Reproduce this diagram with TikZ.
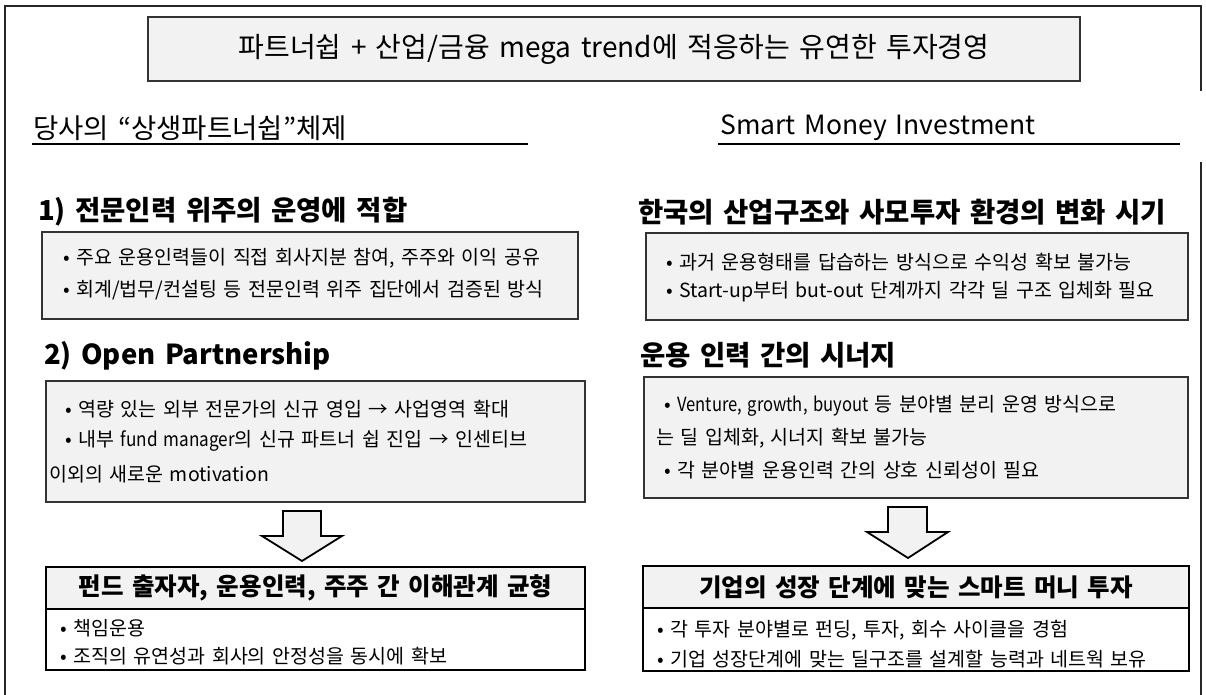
\documentclass[tikz,border=0pt]{standalone}
\usepackage{fontspec}
\setmainfont{Noto Sans CJK KR}[WordSpace=1.5]
\begin{document}
\begin{tikzpicture}[x=1pt,y=-1pt,
  frameline/.style={line width=1.8pt,draw=black!85},
  uline/.style={line width=2pt,draw=black},
  graybox/.style={draw=black!80,line width=1.2pt,fill=gray!10,anchor=north west,inner sep=0pt,outer sep=0pt},
  thickbox/.style={draw=black,line width=2.2pt,anchor=north west,inner sep=0pt,outer sep=0pt},
  headfill/.style={fill=gray!10,anchor=north west,inner sep=0pt,outer sep=0pt},
  txt/.style={anchor=west,inner sep=0pt,font=\fontsize{19.5}{21}\selectfont},
  head/.style={anchor=west,inner sep=0pt,font=\fontsize{27.5}{29}\selectfont\bfseries},
  sechead/.style={anchor=west,inner sep=0pt,font=\fontsize{26.5}{28}\selectfont},
  hdr/.style={inner sep=0pt,font=\fontsize{24.5}{26}\selectfont\bfseries},
  bigarrow/.style={draw=black,line width=1.8pt,fill=gray!10,line join=miter}
]
\useasboundingbox (0,0) rectangle (1206,695);

% outer frame
\draw[frameline] (1201,91) -- (1201,6) -- (5,6) -- (5,695);
\draw[frameline] (1201,162) -- (1201,695);

% title
\node[graybox,minimum width=932pt,minimum height=64pt] (titlebox) at (148,17) {};
\node[inner sep=0pt,font=\fontsize{28}{30}\selectfont] (title) at (titlebox.center) {파트너쉽 + 산업/금융 mega trend에 적응하는 유연한 투자경영};

% section headings
\node[sechead,font=\fontsize{27.5}{29}\selectfont] (lsec) at (33,128) {당사의 “상생파트너쉽”체제};
\draw[uline] (32,144) -- (528,144);
\node[sechead] (rsec) at (720,128) {Smart Money Investment};
\draw[uline] (718,144) -- (1180,144);

% ---------- left column ----------
\node[head] (lh1) at (38,212) {1) 전문인력 위주의 운영에 적합};
\node[graybox,minimum width=536pt,minimum height=87pt] (lb1) at (42,232) {};
\node[txt] (lb1a) at (63,258) {• 주요 운용인력들이 직접 회사지분 참여, 주주와 이익 공유};
\node[txt] (lb1b) at (63,290) {• 회계/법무/컨설팅 등 전문인력 위주 집단에서 검증된 방식};

\node[head] (lh2) at (44,356) {2) Open Partnership};
\node[graybox,minimum width=539pt,minimum height=121pt] (lb2) at (46,381) {};
\node[txt] (lb2a) at (65,409) {• 역량 있는 외부 전문가의 신규 영입 → 사업영역 확대};
\node[txt] (lb2b) at (65,441) {• 내부 \scalebox{0.88}[1]{fund manager}의 신규 파트너 쉽 진입 → 인센티브};
\node[txt] (lb2c) at (49,474) {이외의 새로운 motivation};

\draw[bigarrow] (283,511) -- (321,511) -- (321,536) -- (342,536) -- (302,561) -- (262,536) -- (283,536) -- cycle;

\node[headfill,minimum width=539pt,minimum height=42pt] (lb3h) at (46,567) {};
\node[hdr] (lb3t) at (lb3h.center) {펀드 출자자, 운용인력, 주주 간 이해관계 균형};
\node[thickbox,minimum width=539pt,minimum height=103pt] (lb3) at (46,567) {};
\draw[line width=2.2pt] (lb3h.south west) -- (lb3h.south east);
\node[txt] (lb3a) at (60,628) {• 책임운용};
\node[txt] (lb3b) at (60,656) {• 조직의 유연성과 회사의 안정성을 동시에 확보};

% ---------- right column ----------
\node[head] (rh1) at (638,212) {한국의 산업구조와 사모투자 환경의 변화 시기};
\node[graybox,minimum width=542pt,minimum height=87pt] (rb1) at (646,233) {};
\node[txt] (rb1a) at (666,262) {• 과거 운용형태를 답습하는 방식으로 수익성 확보 불가능};
\node[txt] (rb1b) at (666,292) {• Start-up부터 but-out 단계까지 각각 딜 구조 입체화 필요};

\node[head] (rh2) at (640,355) {운용 인력 간의 시너지};
\node[graybox,minimum width=544pt,minimum height=121pt] (rb2) at (644,377) {};
\node[txt] (rb2a) at (664,406) {• \scalebox{0.85}[1]{Venture, growth, buyout} 등 분야별 분리 운영 방식으로};
\node[txt] (rb2b) at (656,438) {는 딜 입체화, 시너지 확보 불가능};
\node[txt] (rb2c) at (664,470) {• 각 분야별 운용인력 간의 상호 신뢰성이 필요};

\draw[bigarrow] (888,507) -- (927,507) -- (927,532) -- (948,532) -- (908,558) -- (867,532) -- (888,532) -- cycle;

\node[headfill,minimum width=546pt,minimum height=42pt] (rb3h) at (643,566) {};
\node[hdr] (rb3t) at (rb3h.center) {기업의 성장 단계에 맞는 스마트 머니 투자};
\node[thickbox,minimum width=546pt,minimum height=105pt] (rb3) at (643,566) {};
\draw[line width=2.2pt] (rb3h.south west) -- (rb3h.south east);
\node[txt] (rb3a) at (657,630) {• 각 투자 분야별로 펀딩, 투자, 회수 사이클을 경험};
\node[txt] (rb3b) at (657,659) {• 기업 성장단계에 맞는 딜구조를 설계할 능력과 네트웍 보유};
\end{tikzpicture}
\end{document}
